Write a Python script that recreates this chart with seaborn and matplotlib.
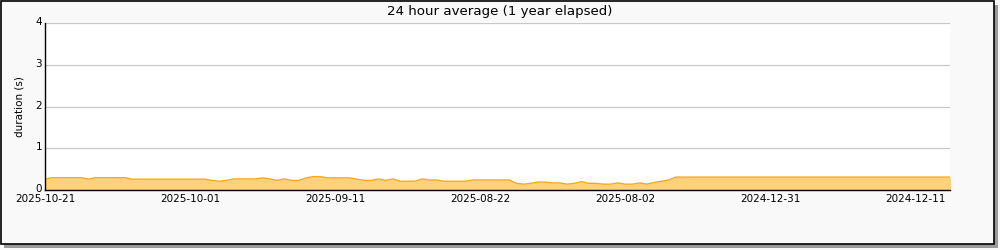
import matplotlib
matplotlib.use("Agg")
import matplotlib.pyplot as plt
import matplotlib.transforms as mtransforms
from matplotlib.patches import Rectangle
import seaborn as sns
import numpy as np
import pandas as pd

# ---- data ----
days_ago = list(range(126))
duration = [
    0.26, 0.295, 0.295, 0.295, 0.295, 0.295, 0.26, 0.295, 0.295, 0.295,
    0.295, 0.295, 0.26, 0.26, 0.26, 0.26, 0.26, 0.26, 0.26, 0.26,
    0.26, 0.26, 0.26, 0.23, 0.21, 0.23, 0.265, 0.265, 0.265, 0.265,
    0.29, 0.265, 0.23, 0.265, 0.23, 0.23, 0.29, 0.32, 0.32, 0.29,
    0.29, 0.29, 0.29, 0.26, 0.23, 0.23, 0.265, 0.23, 0.265, 0.21,
    0.21, 0.21, 0.265, 0.24, 0.24, 0.21, 0.21, 0.21, 0.21, 0.24,
    0.24, 0.24, 0.24, 0.24, 0.24, 0.16, 0.14, 0.16, 0.19, 0.19,
    0.17, 0.17, 0.14, 0.16, 0.20, 0.16, 0.16, 0.14, 0.14, 0.17,
    0.14, 0.14, 0.17, 0.14, 0.18, 0.21, 0.24, 0.31, 0.31, 0.31,
] + [0.31] * 36
tick_pos = [0, 20, 40, 60, 80, 100, 120]
tick_labels = ["2025-10-21", "2025-10-01", "2025-09-11", "2025-08-22",
               "2025-08-02", "2024-12-31", "2024-12-11"]
title = "24 hour average (1 year elapsed)"
ylabel = "duration (s)"

df = pd.DataFrame({"day": days_ago, "duration": duration})

sns.set_style("white")
plt.rcParams["font.family"] = ["DejaVu Sans"]
plt.rcParams["text.color"] = "black"
plt.rcParams["axes.labelcolor"] = "black"
plt.rcParams["xtick.color"] = "black"
plt.rcParams["ytick.color"] = "black"

fig = plt.figure(figsize=(10, 2.5), dpi=100)
fig.patch.set_facecolor("#f9f9f9")

# border with shadow
fig.add_artist(Rectangle((4 / 1000, 2 / 250), 994 / 1000, 243 / 250,
                         transform=fig.transFigure, facecolor="#9a9a9a",
                         edgecolor="none", zorder=-2))
fig.add_artist(Rectangle((1 / 1000, 6 / 250), 993 / 1000, 243 / 250,
                         transform=fig.transFigure, facecolor="#f9f9f9",
                         edgecolor="black", linewidth=1.2, zorder=-1))

ax = fig.add_axes([0.045, 0.24, 0.905, 0.667])
ax.set_facecolor("white")

ax.fill_between(df["day"], 0, df["duration"], color="#fed17e", linewidth=0, zorder=2)
sns.lineplot(data=df, x="day", y="duration", ax=ax, color="#f7a81b",
             linewidth=1.0, zorder=3)

ax.set_xlim(0, 124.8)
ax.set_ylim(0, 4)
ax.set_xticks(tick_pos)
ax.set_xticklabels(tick_labels)
ax.set_xticks([10, 30, 50, 70, 90, 110], minor=True)
ax.set_yticks([0, 1, 2, 3, 4])
ax.set_yticks([0.5, 1.5, 2.5, 3.5], minor=True)
ax.tick_params(axis="both", which="both", direction="in", length=3.5,
               width=0.9, labelsize=7.5, pad=2)
ax.tick_params(axis="x", which="both", pad=3)
ax.tick_params(axis="y", which="both", length=2.5)
ax.yaxis.grid(True, which="major", color="#c8c8c8", linewidth=0.9, zorder=1)
ax.set_axisbelow(True)

# nudge y tick labels up slightly, as in the reference
offset = mtransforms.ScaledTranslation(0, 0.02, fig.dpi_scale_trans)
for lab in ax.get_yticklabels():
    lab.set_transform(lab.get_transform() + offset)

for s in ["top", "right"]:
    ax.spines[s].set_visible(False)
for s in ["left", "bottom"]:
    ax.spines[s].set_color("black")
    ax.spines[s].set_linewidth(1.0)
    ax.spines[s].set_zorder(5)

ax.set_xlabel("")
ax.set_ylabel(ylabel, fontsize=7.5, labelpad=8)
fig.text(0.5, 0.952, title, ha="center", va="center", fontsize=9.6)

fig.savefig("out.png", dpi=100, facecolor=fig.get_facecolor())
